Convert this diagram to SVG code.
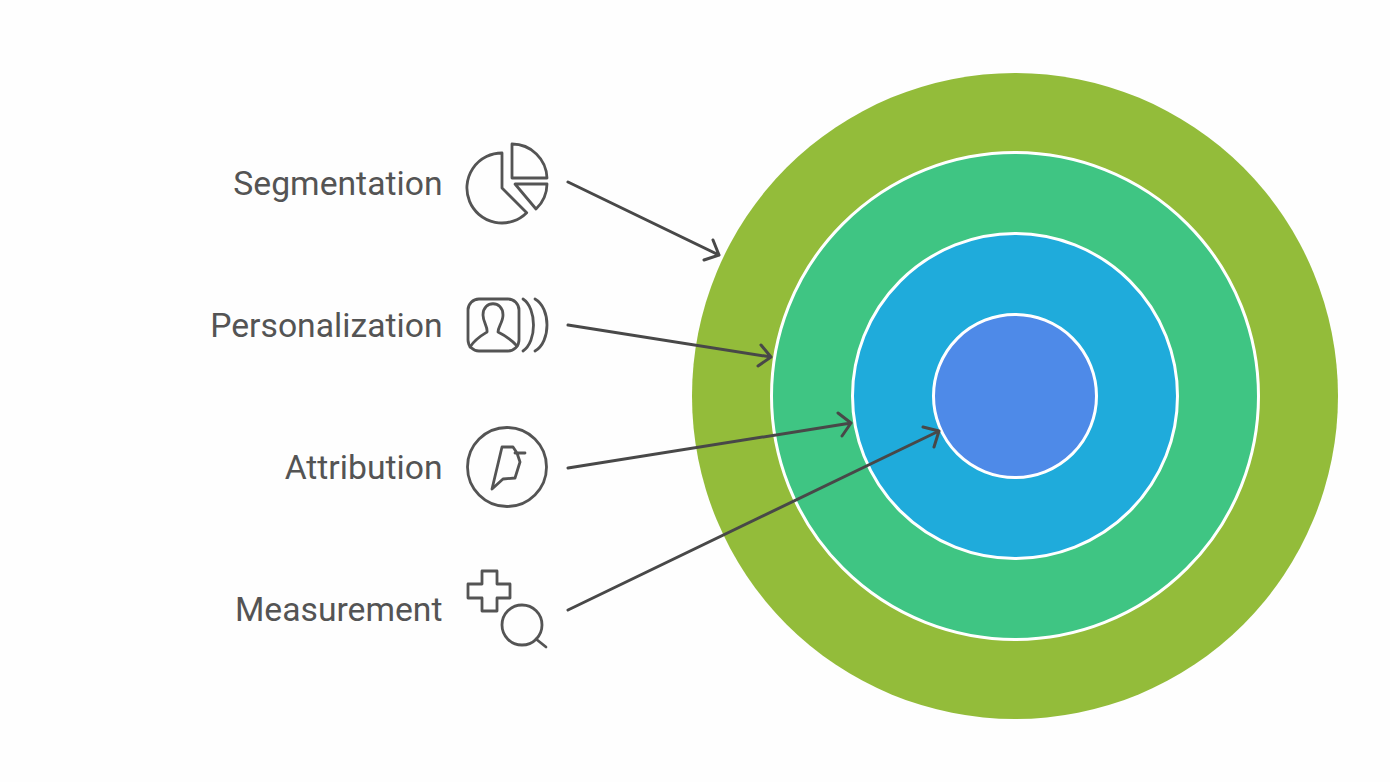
<svg xmlns="http://www.w3.org/2000/svg" width="1390" height="782" viewBox="0 0 1390 782">
<style>
.lbl{font-family:Roboto,"Liberation Sans",sans-serif;font-size:33.7px;fill:#545454;text-anchor:end}
.ic{fill:none;stroke:#545454;stroke-width:2.8;stroke-linejoin:round;stroke-linecap:round}
.ring{stroke:#fff;stroke-width:3}
.con{fill:none;stroke:#484848;stroke-width:3;stroke-linecap:round;stroke-linejoin:round}
</style>
<rect width="1390" height="782" fill="#fefefe"/>
<g id="ring-outer"><circle cx="1015" cy="396" r="323" fill="#93bc3a"/></g>
<g id="ring-2"><circle class="ring" cx="1015" cy="396" r="243.500" fill="#3fc583"/></g>
<g id="ring-3"><circle class="ring" cx="1015" cy="396" r="162.500" fill="#1fabdb"/></g>
<g id="ring-core"><circle class="ring" cx="1015" cy="396" r="81.500" fill="#4e8ae8"/></g>
<g id="connectors">
<path class="con" d="M568 182L719 255M713 240L719 255L704 260"/>
<path class="con" d="M568 325L771 357M761 345L771 357L758 366"/>
<path class="con" d="M568 468L851 423M838 413L851 423L842 436"/>
<path class="con" d="M568 610L939 431M923 427L939 431L934 447"/>
</g>
<g id="segmentation">
<text class="lbl" x="442.500" y="195">Segmentation</text>
<path class="ic" d="M502 153A35 35 0 1 0 526.700 212.700L502 188Z"/>
<path class="ic" d="M512 144A35 35 0 0 1 547 178L512 178Z"/>
<path class="ic" d="M515 184L547 184A35 35 0 0 1 536 209Z"/>
</g>
<g id="personalization">
<text class="lbl" x="442.500" y="337">Personalization</text>
<rect class="ic" x="468" y="299" width="51" height="52" rx="11"/>
<path class="ic" d="M470 347C475 339 482 335 487 332C488 327 483 322 483 315C483 300 503 300 503 315C503 322 498 327 498 332C504 335 511 339 517 346"/>
<path class="ic" d="M523 299C537 308 537 342 523 351M535 299C551 308 551 342 535 351"/>
</g>
<g id="attribution">
<text class="lbl" x="442.500" y="479">Attribution</text>
<circle class="ic" cx="507" cy="467" r="39.500"/>
<path class="ic" d="M502 447L513 447L517 453L520 462L515 478L503 479L492 489ZM515 453L525 453"/>
</g>
<g id="measurement">
<text class="lbl" x="442.500" y="621">Measurement</text>
<path class="ic" d="M482 571L497 571L497 584L510 584L510 598L497 598L497 611L482 611L482 598L468 598L468 584L482 584Z"/>
<circle class="ic" cx="522" cy="625" r="20"/>
<path class="ic" d="M536 639L546 647"/>
</g>
</svg>
